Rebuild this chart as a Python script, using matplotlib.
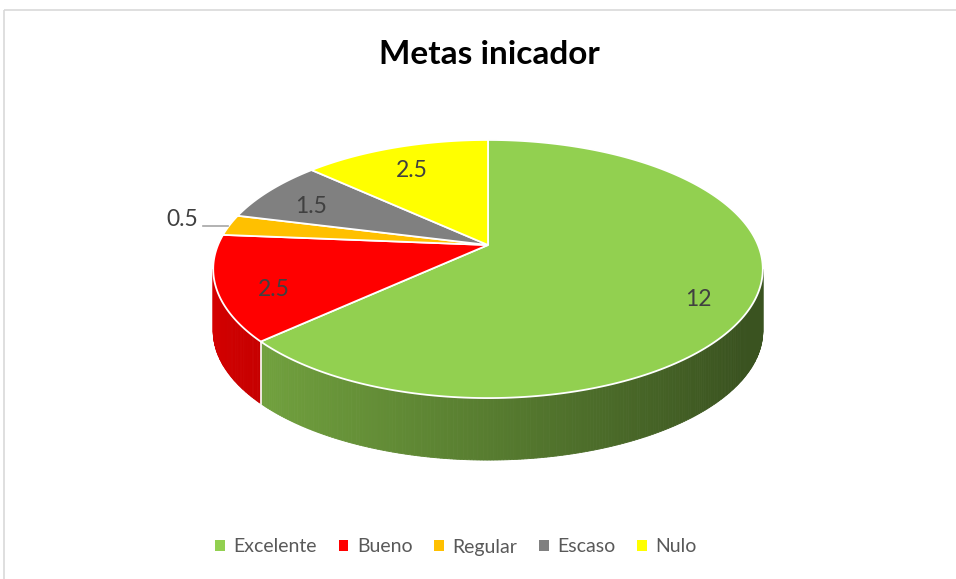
import numpy as np
import matplotlib
matplotlib.use('Agg')
import matplotlib.pyplot as plt
from matplotlib.patches import Polygon, Rectangle

categories = ['Excelente', 'Bueno', 'Regular', 'Escaso', 'Nulo']
values = [12, 2.5, 0.5, 1.5, 2.5]
labels = ['12', '2.5', '0.5', '1.5', '2.5']
colors = ['#92D050', '#FF0000', '#FFC000', '#808080', '#FFFF00']

plt.rcParams['font.family'] = ['Lato', 'DejaVu Sans']

W, H = 956, 579
cx, cy = 488, 245          # apex of the slices (pixels)
a, b, k = 270, 124.6, 0.186  # ellipse radii + perspective factor
depth = 62


def proj(theta, r=1.0):
    u = r * np.cos(theta)
    v = r * np.sin(theta)
    w = 1 + k * v
    return cx + a * u / w, cy - b * v / w


def shade(hex_color, theta):
    f = 0.6 - 0.24 * np.cos(theta)
    f = max(f, 0.4)
    rgb = np.array(matplotlib.colors.to_rgb(hex_color))
    return tuple(np.clip(rgb * f, 0, 1))


fig = plt.figure(figsize=(W / 100, H / 100), dpi=100)
ax = fig.add_axes([0, 0, 1, 1])
ax.set_xlim(0, W)
ax.set_ylim(H, 0)
ax.axis('off')

# chart frame
ax.add_patch(Rectangle((4, 10), W, H, fill=False, edgecolor='#d9d9d9', lw=1.2))

total = sum(values)
cum = np.concatenate([[0], np.cumsum(values)])
starts = np.pi / 2 - cum[:-1] / total * 2 * np.pi
ends = np.pi / 2 - cum[1:] / total * 2 * np.pi

# visible part of the side wall
vis_lo = -np.pi + np.arcsin(k)
vis_hi = -np.arcsin(k)

# side walls
for s, e, col in zip(starts, ends, colors):
    lo, hi = max(e, vis_lo), min(s, vis_hi)
    if lo >= hi:
        continue
    ts = np.linspace(lo, hi, max(int((hi - lo) / 0.01), 2))
    for t1, t2 in zip(ts[:-1], ts[1:]):
        x1, y1 = proj(t1)
        x2, y2 = proj(t2)
        c = shade(col, (t1 + t2) / 2)
        ax.add_patch(Polygon([(x1, y1), (x2, y2), (x2, y2 + depth), (x1, y1 + depth)],
                             closed=True, facecolor=c, edgecolor=c, lw=0.6))
# white seams on the side
for t in ends:
    if vis_lo < t < vis_hi:
        x, y = proj(t)
        ax.plot([x, x], [y, y + depth], color='white', lw=1.2)

# top faces
for s, e, col in zip(starts, ends, colors):
    ts = np.linspace(s, e, 200)
    pts = [(cx, cy)] + [proj(t) for t in ts]
    ax.add_patch(Polygon(pts, closed=True, facecolor=col, edgecolor='white', lw=1.3))

# data labels
for i, (s, e, lab) in enumerate(zip(starts, ends, labels)):
    mid = (s + e) / 2
    if values[i] / total < 0.05:
        x0, y0 = proj(mid, 1.0)
        ax.plot([x0 - 2, x0 - 27], [y0 + 1, y0 + 1], color='#a6a6a6', lw=1.2)
        ax.text(x0 - 31, y0 - 6, lab, ha='right', va='center', fontsize=16.5, color='#404040')
    else:
        x, y = proj(mid, 0.8)
        y += 6 + 15 * max(0, -np.sin(mid))
        ax.text(x, y, lab, ha='center', va='center', fontsize=16.5, color='#404040')

ax.text(489, 55, 'Metas inicador', ha='center', va='center', fontsize=24,
        fontweight='bold', color='black')

handles = [Rectangle((0, 0), 1, 1, facecolor=c) for c in colors]
fig.legend(handles, categories, loc='center', bbox_to_anchor=(456 / W, 1 - 547 / H),
           ncol=5, frameon=False, handlelength=0.5, handleheight=0.5,
           handletextpad=0.45, columnspacing=1.1, fontsize=14, labelcolor='#595959')

fig.savefig('out.png', dpi=100)
